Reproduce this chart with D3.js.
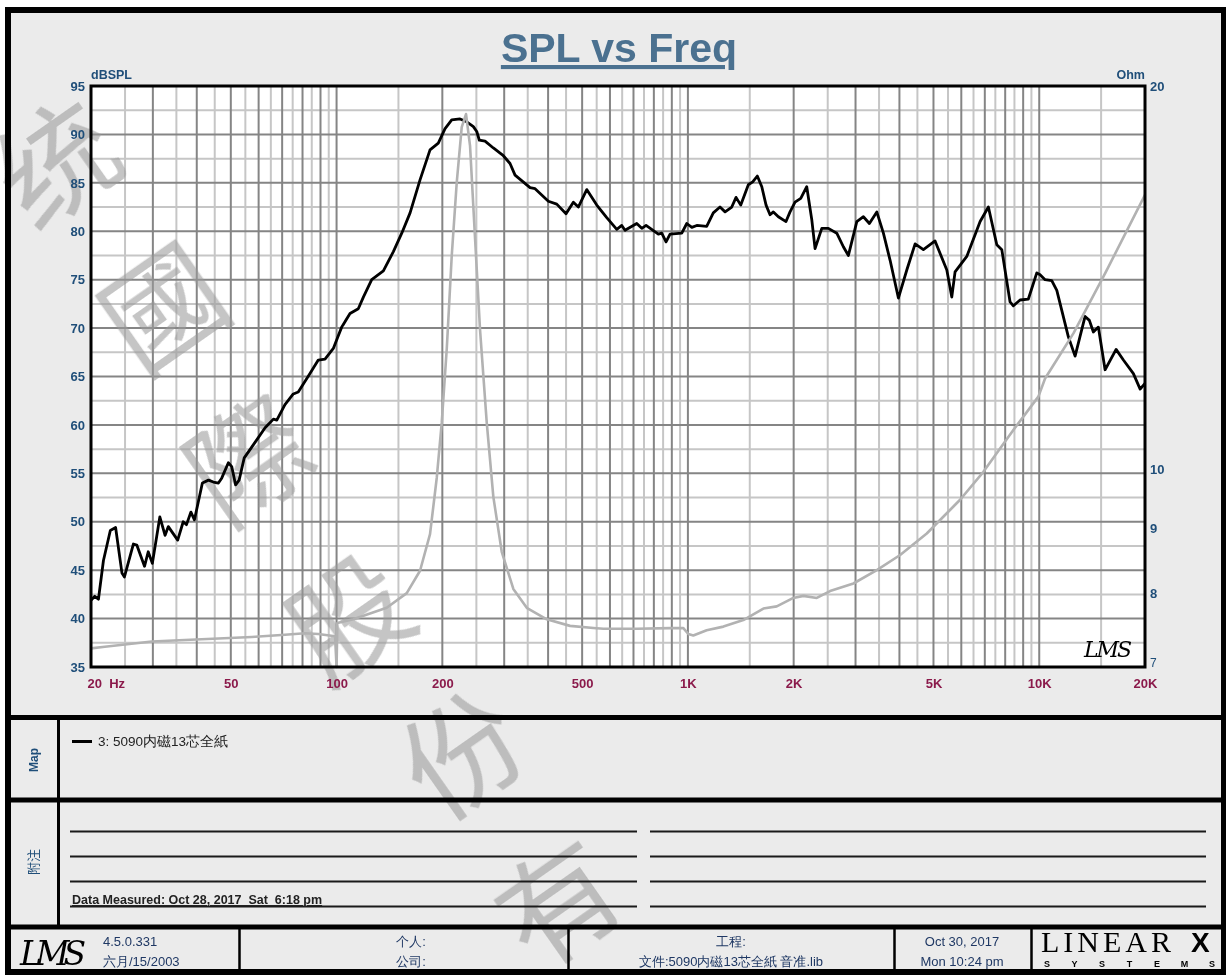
<!DOCTYPE html>
<html><head><meta charset="utf-8">
<script src="https://cdn.jsdelivr.net/npm/d3@7"></script>
<style>
html,body{margin:0;padding:0;background:#fff;}
svg{display:block;}
text{font-family:"Liberation Sans",Arial,sans-serif;}
</style></head><body>
<svg id="c" width="1226" height="975"></svg>
<script>
// ---------------- DATA ----------------
const chartTitle = "SPL vs Freq";
const leftAxisTitle = "dBSPL";
const rightAxisTitle = "Ohm";
const dbTicks = [35,40,45,50,55,60,65,70,75,80,85,90,95];
const ohmTicks = [20,10,9,8,7];
const freqTicks = [20,50,100,200,500,1000,2000,5000,10000,20000];
const freqTickLabels = ["20  Hz","50","100","200","500","1K","2K","5K","10K","20K"];

// SPL curve: [frequency Hz, dBSPL]
const splPoints = [
[20,41.9],[20.5,42.3],[21,42.0],[21.7,46.0],[22.7,49.1],[23.5,49.4],[24.5,44.7],[24.9,44.3],
[26.4,47.7],[27,47.6],[28.4,45.4],[29.1,46.9],[29.9,45.7],[31.4,50.5],[32.5,48.6],[33.2,49.5],
[35.3,48.1],[36.6,50.0],[37.4,49.7],[38.5,51.0],[39.4,50.2],[41.5,54.0],[43.2,54.3],[44.6,54.1],
[46.1,54.0],[47.1,54.5],[49.2,56.1],[50.3,55.7],[51.6,53.8],[52.8,54.3],[54.6,56.6],[58.6,58.2],
[62.6,59.7],[66.1,60.6],[67.6,60.5],[71.3,62.1],[75.3,63.2],[77.8,63.4],[84,65.3],[88.7,66.7],
[92.7,66.8],[97.9,67.9],[103.4,70.1],[109.2,71.5],[115.3,72.0],[119.2,73.2],[125.9,75.0],[135.9,75.9],
[145.1,77.9],[153.3,79.8],[161.9,81.9],[172.8,85.3],[184.5,88.4],[194.8,89.1],[203.6,90.6],[212.7,91.5],
[224.6,91.6],[234.7,91.3],[245.1,90.8],[250.6,90.3],[254.9,89.4],[264.6,89.3],[279.4,88.6],[298.3,87.8],
[311.7,87.0],[322.1,85.8],[355.4,84.5],[367.3,84.4],[400.7,83.1],[423.4,82.8],[449.9,81.8],[472,83.0],
[487.7,82.5],[515.3,84.3],[550.3,82.7],[587.5,81.4],[627.3,80.2],[648.2,80.6],[662.3,80.1],[715.2,80.8],
[739.1,80.3],[760.2,80.6],[823.9,79.7],[842.4,79.8],[866.5,78.9],[889.6,79.7],[960.6,79.8],[992.6,80.8],
[1026,80.4],[1060,80.6],[1131,80.5],[1181,81.9],[1234,82.5],[1276,82.0],[1333,82.5],[1371,83.5],
[1414,82.7],[1486,84.8],[1529,85.1],[1576,85.7],[1623,84.6],[1669,82.7],[1713,81.7],[1751,82.0],
[1809,81.5],[1902,81.0],[1953,82.0],[2018,83.0],[2095,83.4],[2179,84.6],[2252,81.2],[2301,78.2],
[2405,80.3],[2511,80.3],[2653,79.8],[2770,78.4],[2863,77.5],[3025,81.0],[3159,81.5],[3285,80.8],
[3449,82.0],[3601,79.8],[3763,77.0],[3973,73.1],[4198,76.0],[4433,78.7],[4680,78.1],[5052,79.0],
[5457,76.0],[5637,73.2],[5760,75.8],[6220,77.4],[6788,81.0],[7166,82.5],[7572,78.6],[7824,78.1],
[8260,72.7],[8440,72.3],[8820,72.9],[9312,73.0],[9840,75.7],[10056,75.5],[10390,75.0],[10856,74.9],
[11220,73.9],[12104,69.1],[12648,67.1],[13504,71.2],[13890,70.8],[14258,69.6],[14734,70.1],[15396,65.7],
[16550,67.8],[17360,66.7],[18536,65.3],[19374,63.7],[20000,64.3]
];

// Impedance curve: [frequency Hz, Ohm]
const impPoints = [
[20,7.24],[21.9,7.26],[23.9,7.28],[29.8,7.33],[37,7.35],[46.1,7.37],[57.3,7.39],[71.3,7.42],
[81.3,7.44],[88.7,7.43],[99,7.40],[100,7.0],[100.5,7.58],[111.6,7.63],[138.9,7.79],[158.4,8.00],
[172.8,8.33],[184.5,8.90],[192.8,9.85],[199.2,10.88],[205.9,12.44],[212.7,14.71],[219.8,16.80],
[227.1,18.57],[233.6,19.01],[239.8,17.96],[247.8,15.20],[256.1,12.87],[267.6,10.88],[279.4,9.52],
[295.2,8.62],[318.5,8.06],[347.8,7.79],[396.5,7.63],[461.9,7.54],[574.6,7.50],[715.2,7.50],
[889.6,7.51],[970.7,7.51],[1002.6,7.43],[1036,7.41],[1131,7.48],[1262,7.53],[1438,7.62],
[1640,7.78],[1790,7.81],[1996,7.93],[2131,7.96],[2327,7.93],[2539,8.03],[2958,8.14],[3449,8.34],
[4018,8.57],[4785,8.91],[5953,9.47],[6935,9.96],[8440,10.74],[9944,11.41],[10390,11.79],
[12510,12.79],[15226,14.17],[20000,16.43]
];

const legendLabels = ["3: 5090内磁13芯全紙"];
const mapLabel = "Map";
const notesLabel = "附注";
const measuredText = "Data Measured: Oct 28, 2017  Sat  6:18 pm";
const footerVersion = ["4.5.0.331","六月/15/2003"];
const footerPerson = ["个人:","公司:"];
const footerProject = ["工程:","文件:5090内磁13芯全紙 音准.lib"];
const footerDate = ["Oct 30, 2017","Mon 10:24 pm"];
const watermarkChars = ["统","國","際","股","份","有"];

// ---------------- DRAW ----------------
const svg = d3.select("#c");
const P = {l:91, r:1145, t:86, b:667};
const x = d3.scaleLog().domain([20,20000]).range([P.l,P.r]);
const y = d3.scaleLinear().domain([35,95]).range([P.b,P.t]);
const yR = d3.scaleLog().domain([7,20]).range([P.b,P.t]);

const axisBlue = "#1f4e79";
const tickMaroon = "#8b1a4b";
const footBlue = "#1f3864";

// page background
svg.append("rect").attr("x",0).attr("y",0).attr("width",1226).attr("height",975).attr("fill","#fff");
svg.append("rect").attr("x",8).attr("y",10).attr("width",1216).attr("height",962)
  .attr("fill","#ebebeb");

// plot area
svg.append("rect").attr("x",P.l).attr("y",P.t).attr("width",P.r-P.l).attr("height",P.b-P.t).attr("fill","#fff");

// grid
const lightF = [], darkF = [];
[10,100,1000,10000].forEach(base=>{
  for(let k=1;k<=9;k++){
    const f = k*base, h = k*base + base/2;
    if(f>20 && f<20000) darkF.push(f);
    if(h>20 && h<20000) lightF.push(h);
  }
});
const lightDb = [], darkDb = [];
for(let v=37.5; v<95; v+=5) lightDb.push(v);
for(let v=40; v<95; v+=5) darkDb.push(v);

const grid = svg.append("g");
grid.selectAll(".lv").data(lightF).join("line")
  .attr("x1",d=>x(d)).attr("x2",d=>x(d)).attr("y1",P.t).attr("y2",P.b)
  .attr("stroke","#c6c6c6").attr("stroke-width",2);
grid.selectAll(".lh").data(lightDb).join("line")
  .attr("x1",P.l).attr("x2",P.r).attr("y1",d=>y(d)).attr("y2",d=>y(d))
  .attr("stroke","#c6c6c6").attr("stroke-width",2);
grid.selectAll(".dv").data(darkF).join("line")
  .attr("x1",d=>x(d)).attr("x2",d=>x(d)).attr("y1",P.t).attr("y2",P.b)
  .attr("stroke","#858585").attr("stroke-width",2);
grid.selectAll(".dh").data(darkDb).join("line")
  .attr("x1",P.l).attr("x2",P.r).attr("y1",d=>y(d)).attr("y2",d=>y(d))
  .attr("stroke","#858585").attr("stroke-width",2);

// watermark
const wmPos = [[58,165],[165,310],[250,462],[350,620],[463,756],[560,905]];
const wm = svg.append("g").attr("opacity",0.58);
wm.selectAll("text").data(watermarkChars).join("text")
  .attr("transform",(d,i)=>`translate(${wmPos[i][0]},${wmPos[i][1]}) rotate(-35)`)
  .attr("text-anchor","middle").attr("dy","0.36em")
  .style("font-family","'Noto Sans CJK SC','Noto Sans CJK TC',sans-serif")
  .style("font-size","118px").style("font-weight","400")
  .attr("fill","#9a9a9a").text(d=>d);

// curves
const lineSpl = d3.line().x(d=>x(d[0])).y(d=>y(d[1]));
const lineImp = d3.line().x(d=>x(d[0])).y(d=>yR(d[1]));
svg.append("path").datum(splPoints).attr("d",lineSpl)
  .attr("fill","none").attr("stroke","#000").attr("stroke-width",2.8).attr("stroke-linejoin","round");
svg.append("path").datum(impPoints).attr("d",lineImp)
  .attr("fill","none").attr("stroke","#b2b2b2").attr("stroke-width",2.6).attr("stroke-linejoin","round");

// frame
svg.append("rect").attr("x",P.l).attr("y",P.t).attr("width",P.r-P.l).attr("height",P.b-P.t)
  .attr("fill","none").attr("stroke","#000").attr("stroke-width",3);

// axes
const gL = svg.append("g").attr("transform",`translate(${P.l},0)`)
  .call(d3.axisLeft(y).tickValues(dbTicks).tickSize(0).tickPadding(6).tickFormat(d3.format("d")));
gL.select(".domain").remove();
gL.selectAll("text").style("font-size","13px").style("font-weight","bold").attr("fill",axisBlue)
  .style("font-family","'Liberation Sans',Arial,sans-serif");

const gR = svg.append("g").attr("transform",`translate(${P.r},0)`)
  .call(d3.axisRight(yR).tickValues(ohmTicks).tickSize(0).tickPadding(5).tickFormat(d3.format("d")));
gR.select(".domain").remove();
gR.selectAll("text").style("font-size","13px").style("font-weight","bold").attr("fill",axisBlue)
  .style("font-family","'Liberation Sans',Arial,sans-serif");
gR.selectAll(".tick").filter(d=>d===7).select("text").attr("dy","-0.05em").style("font-size","12px").style("font-weight","normal");

const gB = svg.append("g").attr("transform",`translate(0,${P.b})`)
  .call(d3.axisBottom(x).tickValues(freqTicks).tickSize(0).tickPadding(12).tickFormat((d,i)=>freqTickLabels[i]));
gB.select(".domain").remove();
gB.selectAll("text").style("font-size","13px").style("font-weight","bold").attr("fill",tickMaroon)
  .style("font-family","'Liberation Sans',Arial,sans-serif").style("white-space","pre");
gB.selectAll(".tick").filter(d=>d===20).select("text").attr("text-anchor","start").attr("x",-4);

svg.append("text").attr("x",P.l).attr("y",79).text(leftAxisTitle)
  .style("font-size","12.5px").style("font-weight","bold").attr("fill",axisBlue);
svg.append("text").attr("x",P.r).attr("y",79).attr("text-anchor","end").text(rightAxisTitle)
  .style("font-size","12.5px").style("font-weight","bold").attr("fill",axisBlue);

// title
svg.append("text").attr("x",619).attr("y",62).attr("text-anchor","middle").text(chartTitle)
  .style("font-size","41px").style("font-weight","bold").style("text-decoration","underline")
  .attr("fill","#4b7190");

// LMS logo in plot
svg.append("text").attr("x",1084).attr("y",657).text("LMS")
  .style("font-family","'DejaVu Serif',serif").style("font-style","italic").style("font-size","22px")
  .attr("fill","#000").attr("textLength",48);

// ---------- lower panels ----------
const blk = "#000";
function hline(x1,x2,yy,w,c){svg.append("line").attr("x1",x1).attr("x2",x2).attr("y1",yy).attr("y2",yy).attr("stroke",c||blk).attr("stroke-width",w);}
function vline(xx,y1,y2,w){svg.append("line").attr("x1",xx).attr("x2",xx).attr("y1",y1).attr("y2",y2).attr("stroke",blk).attr("stroke-width",w);}

hline(8,1224,717.5,5);
hline(8,1224,800,5);
hline(8,1224,927,5);
vline(58.5,717,927,3);

svg.append("text").attr("transform","translate(38,760) rotate(-90)").attr("text-anchor","middle")
  .text(mapLabel).style("font-size","12px").style("font-weight","bold").attr("fill",axisBlue);
svg.append("text").attr("transform","translate(38,862) rotate(-90)").attr("text-anchor","middle")
  .text(notesLabel).style("font-size","13px").attr("fill",axisBlue)
  .style("font-family","'Noto Sans CJK SC',sans-serif");

// legend
const lg = svg.append("g");
lg.selectAll("line").data(legendLabels).join("line")
  .attr("x1",72).attr("x2",92).attr("y1",(d,i)=>741.5+i*16).attr("y2",(d,i)=>741.5+i*16)
  .attr("stroke","#000").attr("stroke-width",3);
lg.selectAll("text").data(legendLabels).join("text")
  .attr("x",98).attr("y",(d,i)=>746+i*16).text(d=>d)
  .style("font-size","13.5px").style("font-family","'Liberation Sans Narrow','Liberation Sans',sans-serif")
  .attr("fill","#222");

// note lines
[831.5,856.5,881.5,906.5].forEach(yy=>{ hline(70,637,yy,1.8,"#1a1a1a"); hline(650,1206,yy,1.8,"#1a1a1a"); });
svg.append("text").attr("x",72).attr("y",904).text(measuredText)
  .style("font-size","12.5px").style("font-weight","bold").style("white-space","pre")
  .style("font-family","'Liberation Sans Narrow','Liberation Sans',sans-serif")
  .style("text-decoration","underline").attr("fill","#222");

// footer
[239.5,568.5,894.5,1031.5].forEach(xx=>vline(xx,927,972,2.5));
svg.append("text").attr("x",20).attr("y",965).text("LMS")
  .style("font-family","'DejaVu Serif',serif").style("font-style","italic").style("font-size","33px")
  .attr("textLength",66).attr("fill","#000");
const ff = "'Liberation Sans Narrow','Liberation Sans',sans-serif";
function ftext(arr,xx,anchor){
  arr.forEach((t,i)=>svg.append("text").attr("x",xx).attr("y",946+i*20).attr("text-anchor",anchor)
    .text(t).style("font-size","13px").style("font-family",ff).attr("fill",footBlue));
}
ftext(footerVersion,103,"start");
ftext(footerPerson,411,"middle");
ftext(footerProject,731,"middle");
ftext(footerDate,962,"middle");

// LINEAR X logo
svg.append("text").attr("x",1041).attr("y",952).text("LINEAR")
  .style("font-family","'Liberation Serif',serif").style("font-size","30px").style("letter-spacing","4px")
  .attr("fill","#000");
svg.append("text").attr("x",1191).attr("y",952).text("X")
  .style("font-family","'Liberation Sans',sans-serif").style("font-weight","900").style("font-size","28px")
  .attr("fill","#000");
const sys = "SYSTEMS".split("");
svg.selectAll(".sys").data(sys).join("text").attr("class","sys")
  .attr("x",(d,i)=>1047+i*27.5).attr("y",967).attr("text-anchor","middle").text(d=>d)
  .style("font-size","9px").style("font-weight","bold").attr("fill","#000");

// outer border (on top)
svg.append("rect").attr("x",8).attr("y",10).attr("width",1216).attr("height",962)
  .attr("fill","none").attr("stroke","#000").attr("stroke-width",6);
</script>
</body></html>
